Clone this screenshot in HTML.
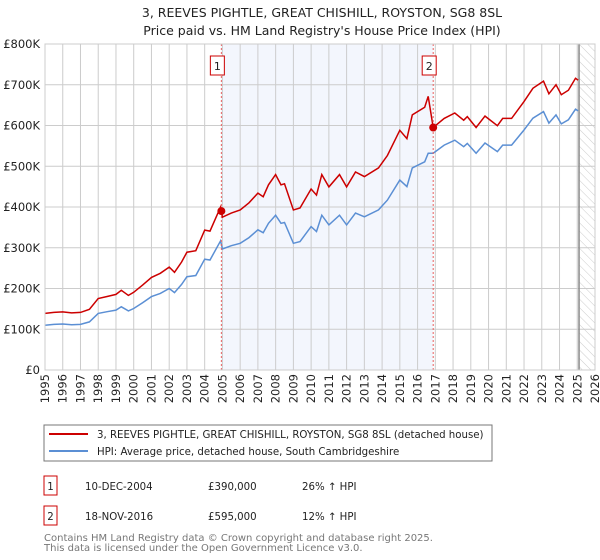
<!DOCTYPE html>
<html><head><meta charset="utf-8"><style>
body{margin:0;background:#fff;}
svg{display:block;font-family:"DejaVu Sans","Liberation Sans",sans-serif;}
</style></head><body>
<svg id="chart" width="600" height="560" viewBox="0 0 600 560">
<defs><pattern id="hatch" width="6" height="6" patternUnits="userSpaceOnUse" patternTransform="rotate(-45)"><line x1="0" y1="0" x2="0" y2="6" stroke="#ccc" stroke-width="1"/></pattern></defs>
<text x="322" y="17" text-anchor="middle" font-size="12.5" fill="#222">3, REEVES PIGHTLE, GREAT CHISHILL, ROYSTON, SG8 8SL</text>
<text x="322" y="35" text-anchor="middle" font-size="12.5" fill="#222">Price paid vs. HM Land Registry's House Price Index (HPI)</text>
<g id="plot"></g>
<rect x="44" y="425" width="448" height="36" fill="#fff" stroke="#777"/>
<line x1="49" y1="434" x2="88" y2="434" stroke="#cc0000" stroke-width="2"/>
<text x="97" y="438" font-size="10.2" fill="#222">3, REEVES PIGHTLE, GREAT CHISHILL, ROYSTON, SG8 8SL (detached house)</text>
<line x1="49" y1="451" x2="88" y2="451" stroke="#5b8fd4" stroke-width="2"/>
<text x="97" y="455" font-size="10.2" fill="#222">HPI: Average price, detached house, South Cambridgeshire</text>
<g font-size="10.2" fill="#222">
<rect x="44" y="476" width="13" height="19" fill="#fff" stroke="#cc0000"/>
<text x="50.5" y="490" text-anchor="middle">1</text>
<text x="85" y="490">10-DEC-2004</text>
<text x="208" y="490">£390,000</text>
<text x="302" y="490">26% ↑ HPI</text>
<rect x="44" y="506" width="13" height="19" fill="#fff" stroke="#cc0000"/>
<text x="50.5" y="520" text-anchor="middle">2</text>
<text x="85" y="520">18-NOV-2016</text>
<text x="208" y="520">£595,000</text>
<text x="302" y="520">12% ↑ HPI</text>
</g>
<text x="44" y="541" font-size="10" fill="#777">Contains HM Land Registry data © Crown copyright and database right 2025.</text>
<text x="44" y="551" font-size="10" fill="#777">This data is licensed under the Open Government Licence v3.0.</text>
</svg>
<script>
const hpiYears=[1995,1995.5,1996,1996.5,1997,1997.5,1998,1998.5,1999,1999.3,1999.7,2000,2000.5,2001,2001.5,2002,2002.3,2002.7,2003,2003.5,2004,2004.3,2004.9,2005.0,2005.5,2006,2006.5,2007,2007.3,2007.6,2008,2008.3,2008.5,2009,2009.37,2010,2010.3,2010.6,2011,2011.6,2012,2012.5,2013,2013.8,2014.3,2015,2015.4,2015.7,2016.4,2016.6,2016.88,2017.5,2018.1,2018.6,2018.8,2019.3,2019.8,2020.5,2020.8,2021.3,2022,2022.5,2023.1,2023.4,2023.8,2024.1,2024.5,2024.9,2025.05];
const hpiValues=[110,112,113,111,112,118,139,143,147,155,145,151,165,180,188,200,190,210,229,232,272,270,317,297,305,311,325,344,337,360,380,360,362,311,315,352,340,380,356,380,356,385,376,393,417,466,450,496,511,532,532,552,564,548,556,532,557,536,552,552,589,618,634,606,626,604,614,640,636];
const saleYears=[2004.94,2016.88];
const salePrices=[390,595];
const yTicks=[0,100,200,300,400,500,600,700,800];
const yTickLabels=["£0","£100K","£200K","£300K","£400K","£500K","£600K","£700K","£800K"];
const xTicks=[1995,1996,1997,1998,1999,2000,2001,2002,2003,2004,2005,2006,2007,2008,2009,2010,2011,2012,2013,2014,2015,2016,2017,2018,2019,2020,2021,2022,2023,2024,2025,2026];
const dataEnd=2025.1;

const NS="http://www.w3.org/2000/svg";
const X0=45,X1=595,Y0=370,Y1=44;
function xs(y){return X0+(y-1995)/(2026-1995)*(X1-X0);}
function ys(v){return Y0-v/800*(Y0-Y1);}
const g=document.getElementById('plot');
function mk(t,a,p){const e=document.createElementNS(NS,t);for(const k in a)e.setAttribute(k,a[k]);(p||g).appendChild(e);return e;}
function hpiAt(t){for(let i=0;i<hpiYears.length-1;i++){if(t<=hpiYears[i+1]){const f=(t-hpiYears[i])/(hpiYears[i+1]-hpiYears[i]);return hpiValues[i]+f*(hpiValues[i+1]-hpiValues[i]);}}return hpiValues[hpiValues.length-1];}

let sh=mk('rect',{x:xs(saleYears[0]),y:Y1,width:xs(saleYears[1])-xs(saleYears[0]),height:Y0-Y1,fill:'#f3f6fd'});


let ht=mk('rect',{x:xs(dataEnd),y:Y1,width:X1-xs(dataEnd),height:Y0-Y1,fill:'url(#hatch)'});


xTicks.forEach(t=>{
 let l=mk('line',{x1:xs(t),x2:xs(t),y1:Y1,y2:Y0,stroke:'#ccc','stroke-width':1});
 
 
 let tx=mk('text',{x:0,y:0,'text-anchor':'end','font-size':11.5,fill:'#222',transform:'translate('+(xs(t)+4)+',374) rotate(-90)'});
 tx.textContent=t;
 
 
});
yTicks.forEach((v,i)=>{
 let l=mk('line',{x1:X0,x2:X1,y1:ys(v),y2:ys(v),stroke:'#ccc','stroke-width':1});
 
 
 let tx=mk('text',{x:40,y:ys(v)+4,'text-anchor':'end','font-size':11.5,fill:'#222'});
 tx.textContent=yTickLabels[i];
 
 
});
let el=mk('line',{x1:xs(dataEnd),x2:xs(dataEnd),y1:Y1,y2:Y0,stroke:'#888','stroke-width':1.5});


let hp=hpiYears.map((t,i)=>xs(t).toFixed(1)+','+ys(hpiValues[i]).toFixed(1)).join(' ');
let hl=mk('polyline',{points:hp,fill:'none',stroke:'#5b8fd4','stroke-width':1.5});


function propAt(t){let k=0;for(let i=0;i<saleYears.length;i++)if(t>=saleYears[i])k=i;return hpiAt(t)*salePrices[k]/hpiAt(saleYears[k]);}
let pts=[];
hpiYears.forEach(t=>{
 saleYears.forEach((s,j)=>{if(t>s&&(pts.length===0||pts[pts.length-1][0]<s)){if(j>0)pts.push([s-0.001,hpiAt(s)*salePrices[j-1]/hpiAt(saleYears[j-1])]);pts.push([s,salePrices[j]]);}});
 pts.push([t,propAt(t)]);
});
pts.sort((a,b)=>a[0]-b[0]);
let pl=mk('polyline',{points:pts.map(p=>xs(p[0]).toFixed(1)+','+ys(p[1]).toFixed(1)).join(' '),fill:'none',stroke:'#cc0000','stroke-width':1.5});


saleYears.forEach((s,i)=>{
 let v=mk('line',{x1:xs(s),x2:xs(s),y1:Y1,y2:Y0,stroke:'#e86060','stroke-width':1,'stroke-dasharray':'2,2'});
 
 
 let c=mk('circle',{cx:xs(s),cy:ys(salePrices[i]),r:4,fill:'#cc0000'});
 
 
 let b=mk('rect',{x:xs(s)-11,y:56,width:14,height:19,fill:'#fff',stroke:'#cc0000'});
 
 
 let t=mk('text',{x:xs(s)-4,y:70,'text-anchor':'middle','font-size':11,fill:'#222'});
 t.textContent=String(i+1);
 
 
});
let fr=mk('rect',{x:X0,y:Y1,width:X1-X0,height:Y0-Y1,fill:'none',stroke:'#ccc'});


</script>
</body></html>
